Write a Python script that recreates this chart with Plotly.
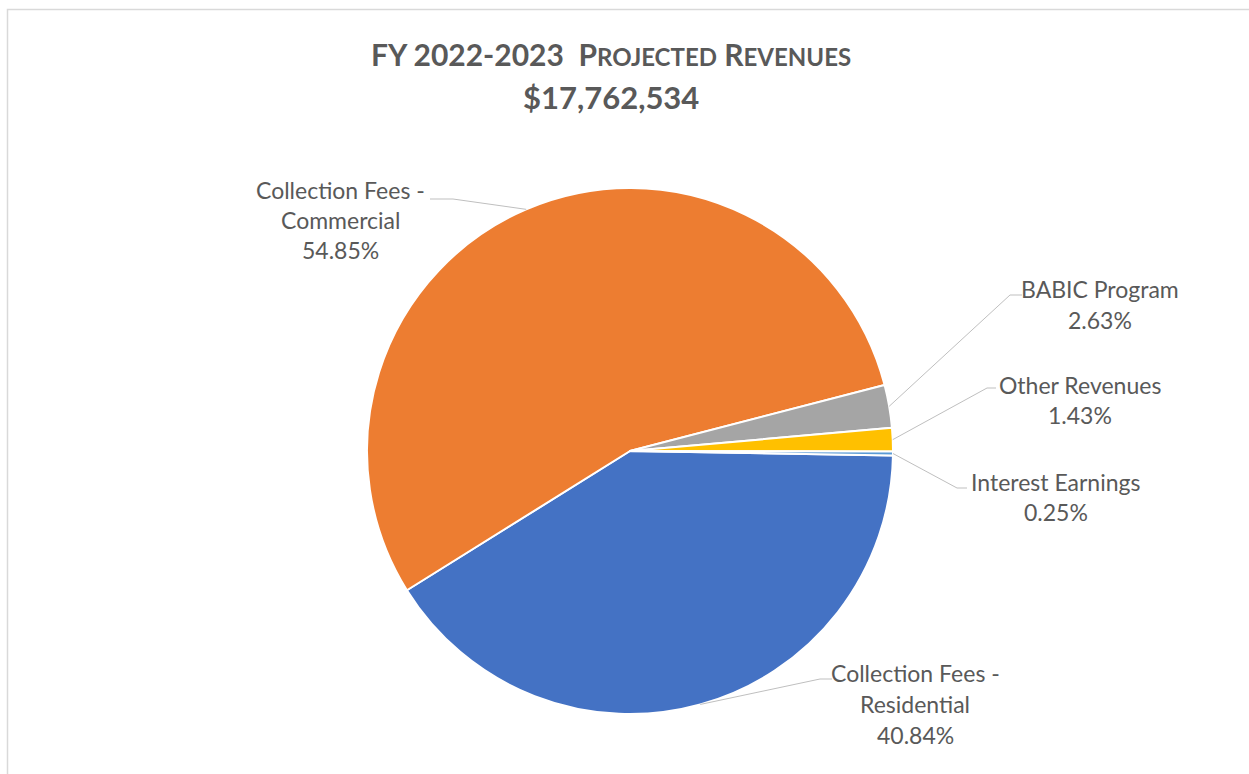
import plotly.graph_objects as go
import math

# Revenue categories (in drawing order, clockwise) and their shares in percent
categories = [
    "Collection Fees - Residential",
    "Collection Fees - Commercial",
    "BABIC Program",
    "Other Revenues",
    "Interest Earnings",
]
label_lines = [
    ["Collection Fees -", "Residential"],
    ["Collection Fees -", "Commercial"],
    ["BABIC Program"],
    ["Other Revenues"],
    ["Interest Earnings"],
]
shares = [40.84, 54.85, 2.63, 1.43, 0.25]
colors = ["#4472C4", "#ED7D31", "#A5A5A5", "#FFC000", "#5B9BD5"]

title_main = "FY 2022-2023"
title_sub = "Projected Revenues"
total_text = "$17,762,534"

# Canvas and pie geometry (pixels)
W, H = 1249, 774
CX, CY, R = 630, 451, 263
START = 91  # first slice starts just past 3 o'clock, slices go clockwise
TEXT = "#595959"
FONT = "Lato"
LABEL_SIZE = 23


def px(x):
    return x / W


def py(y):
    return 1 - y / H


# Label layout: text-line centre x, y of first line, line step, leader elbow and end
label_layout = [
    dict(cx=915, y0=673, step=31, elbow=(820, 679), end=(832, 679)),
    dict(cx=340, y0=190, step=30, elbow=(453, 199), end=(430, 199)),
    dict(cx=1100, y0=289, step=31, elbow=(1010, 295), end=(1022, 295)),
    dict(cx=1080, y0=385, step=30, elbow=(987, 388), end=(996, 388)),
    dict(cx=1056, y0=482, step=30, elbow=(957, 488), end=(967, 488)),
]

fig = go.Figure(
    go.Pie(
        labels=categories,
        values=shares,
        sort=False,
        direction="clockwise",
        rotation=START,
        marker=dict(colors=colors, line=dict(color="white", width=2)),
        textinfo="none",
        hoverinfo="label+percent",
        showlegend=False,
        domain=dict(x=[px(CX - R), px(CX + R)], y=[py(CY + R), py(CY - R)]),
    )
)

annotations = []
shapes = []

# Leader lines and labels derived from each slice's mid-angle
cum = 0.0
total = sum(shares)
for share, lines, lay in zip(shares, label_lines, label_layout):
    mid = math.radians(START + 360 * (cum + share / 2) / total)
    cum += share
    sx = CX + R * math.sin(mid)
    sy = CY - R * math.cos(mid)
    ex, ey = lay["elbow"]
    tx, ty = lay["end"]
    shapes.append(
        dict(
            type="path",
            xref="paper",
            yref="paper",
            path=f"M {px(sx)},{py(sy)} L {px(ex)},{py(ey)} L {px(tx)},{py(ty)}",
            line=dict(color="#BFBFBF", width=1),
        )
    )
    texts = lines + [f"{share:.2f}%"]
    for i, t in enumerate(texts):
        annotations.append(
            dict(
                text=t,
                x=px(lay["cx"]),
                y=py(lay["y0"] + i * lay["step"]),
                xref="paper",
                yref="paper",
                xanchor="center",
                yanchor="middle",
                showarrow=False,
                font=dict(family=FONT, size=LABEL_SIZE, color=TEXT),
            )
        )

# Title with small caps for the second part
small = "".join(
    f"{w[0]}<span style='font-size:24px'>{w[1:].upper()}</span> " for w in title_sub.split()
).strip()
annotations.append(
    dict(
        text=f"<b>{title_main}  {small}</b>",
        x=px(611),
        y=py(54),
        xref="paper",
        yref="paper",
        xanchor="center",
        yanchor="middle",
        showarrow=False,
        font=dict(family=FONT, size=30, color=TEXT),
    )
)
annotations.append(
    dict(
        text=f"<b>{total_text}</b>",
        x=px(611),
        y=py(97),
        xref="paper",
        yref="paper",
        xanchor="center",
        yanchor="middle",
        showarrow=False,
        font=dict(family=FONT, size=31, color=TEXT),
    )
)

# Chart-area border
shapes.append(
    dict(
        type="rect",
        xref="paper",
        yref="paper",
        x0=px(7.5),
        y0=-0.05,
        x1=1.05,
        y1=py(9.5),
        line=dict(color="#D9D9D9", width=1.5),
        fillcolor="rgba(0,0,0,0)",
    )
)

fig.update_layout(
    width=W,
    height=H,
    margin=dict(l=0, r=0, t=0, b=0),
    paper_bgcolor="white",
    plot_bgcolor="white",
    annotations=annotations,
    shapes=shapes,
)

fig.write_html("out.html")
